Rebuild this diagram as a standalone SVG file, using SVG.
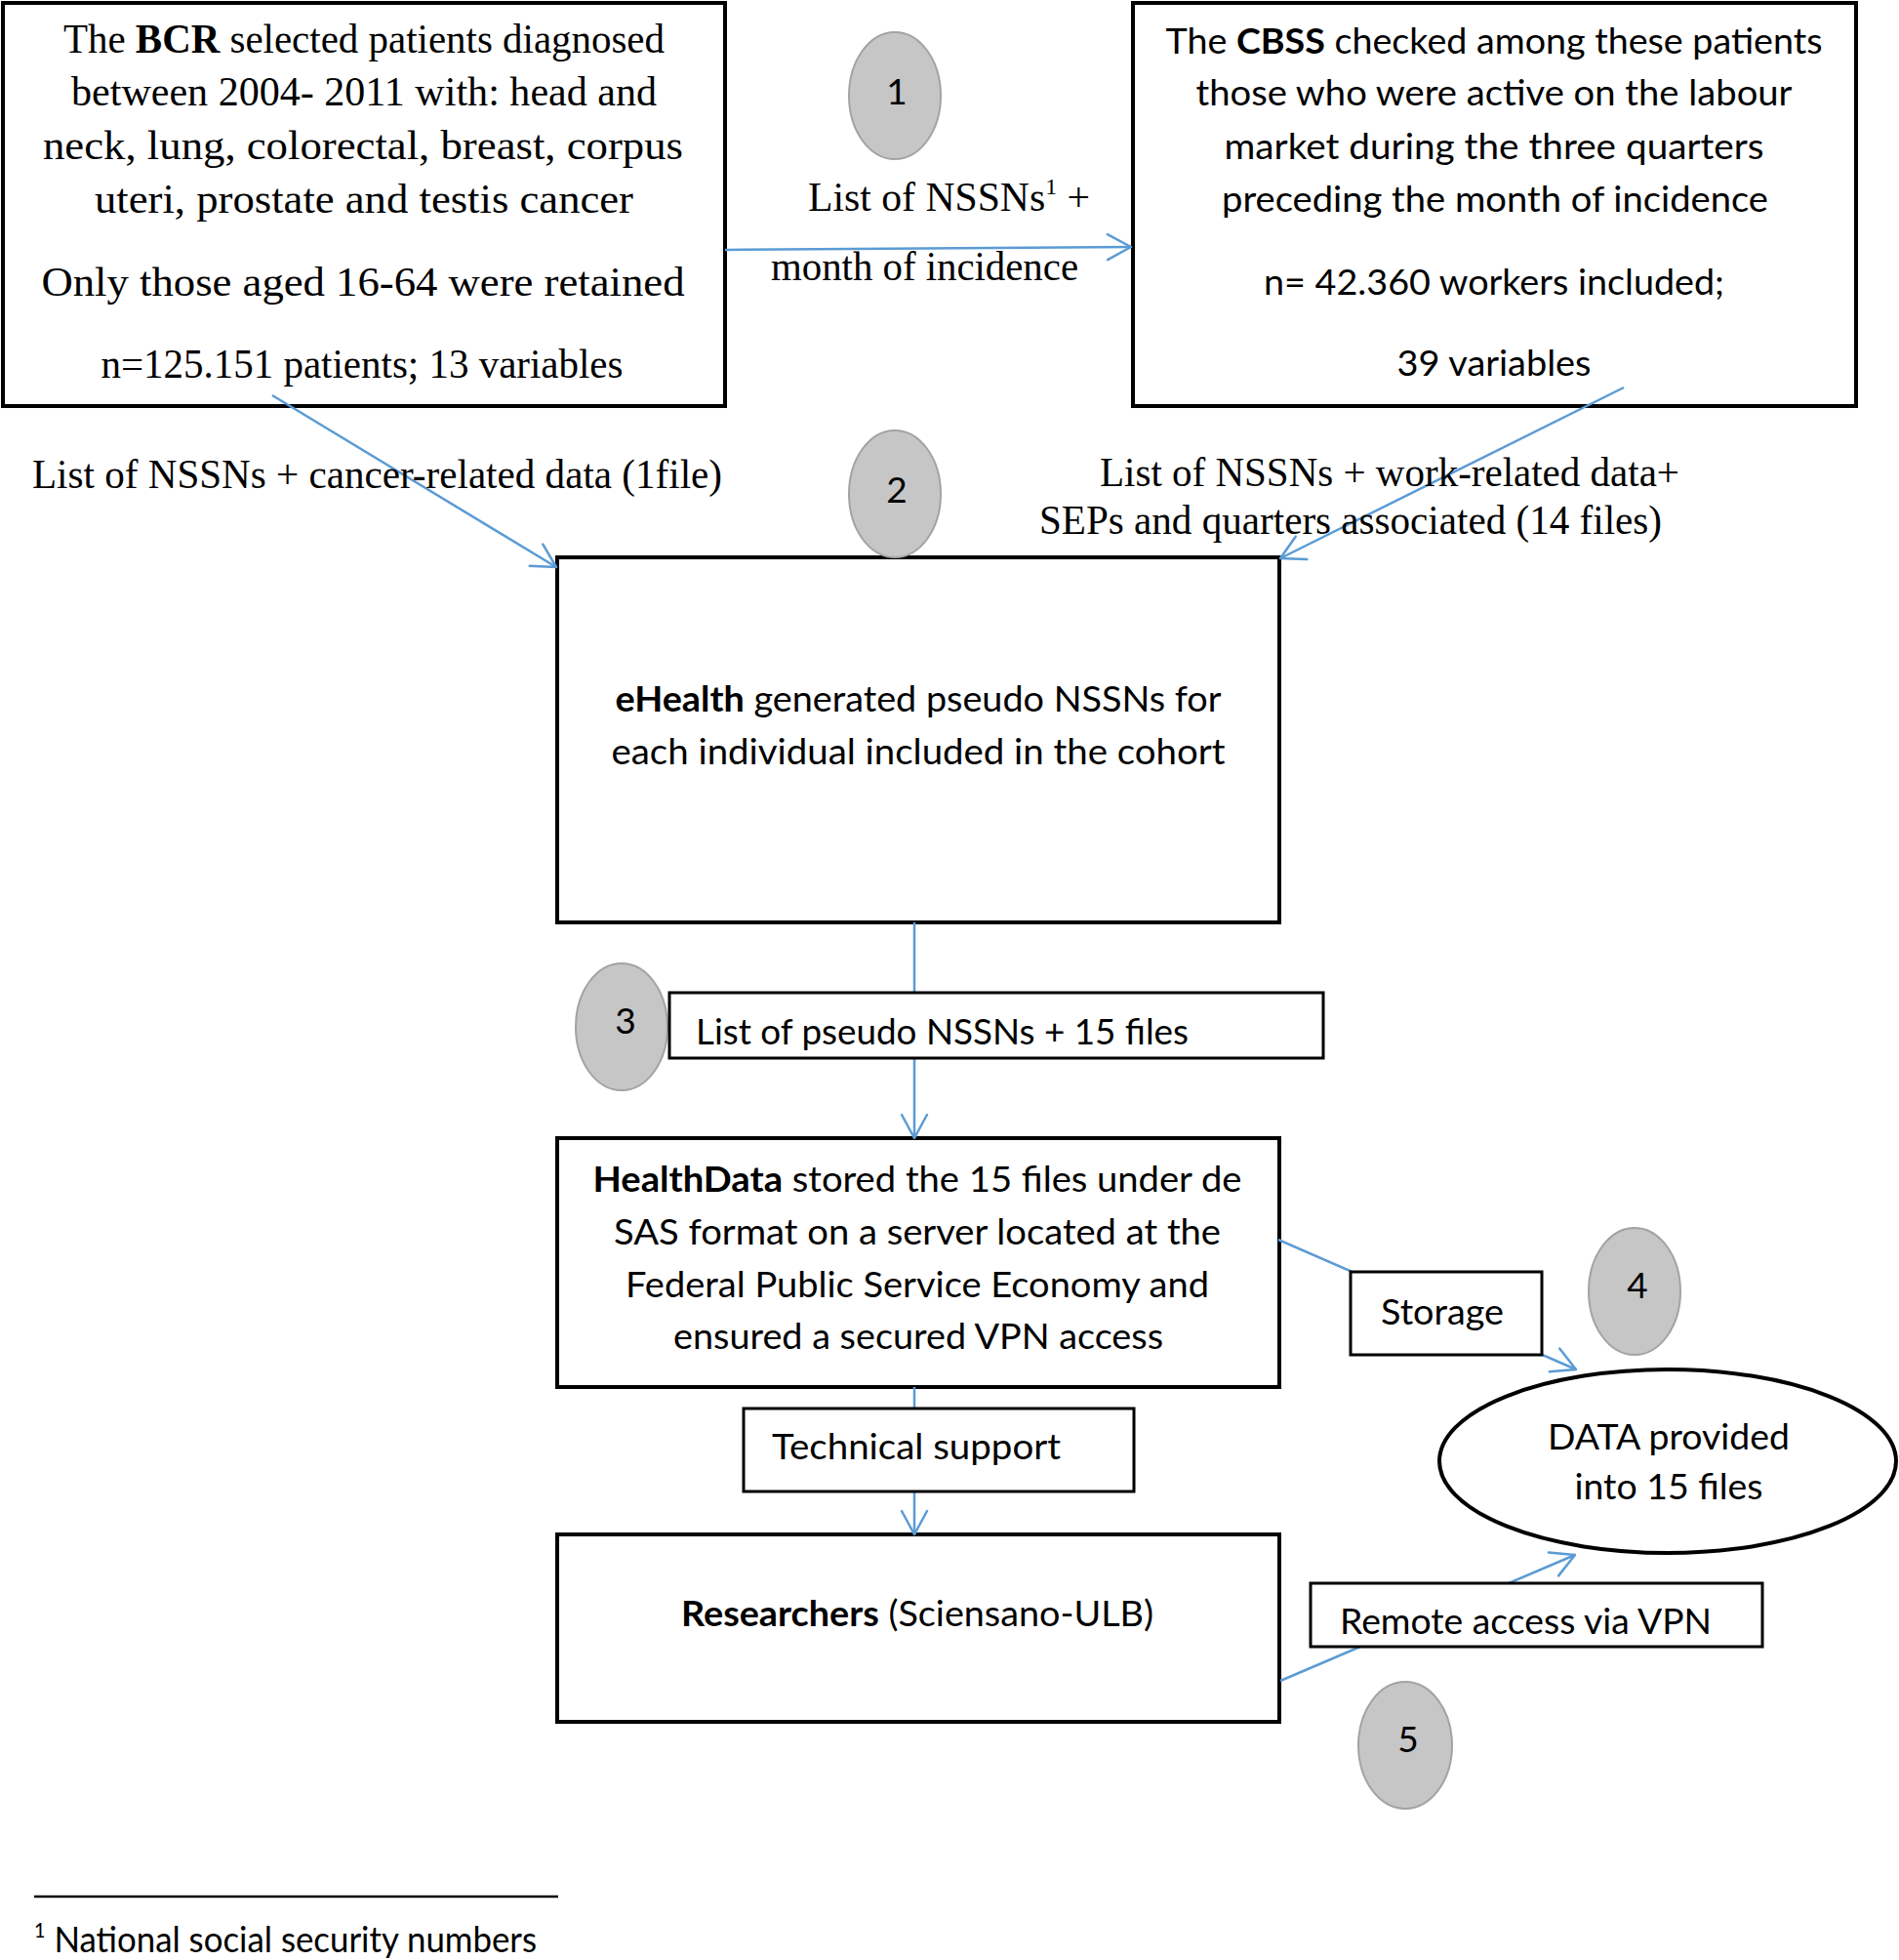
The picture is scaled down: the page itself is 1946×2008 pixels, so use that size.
<svg xmlns="http://www.w3.org/2000/svg" width="1946" height="2008" viewBox="0 0 1946 2008">
<style>
.box{fill:#fff;stroke:#000;stroke-width:4}
.lbl{fill:#fff;stroke:#000;stroke-width:3}
.serif{font-family:"Liberation Serif","Times New Roman",serif;font-size:42px;fill:#000}
.sans{font-family:Lato,"Open Sans",sans-serif;font-size:37px;fill:#000}
.mid{text-anchor:middle}
.b{font-weight:bold}
.conn{stroke:#5b9bd5;stroke-width:2.5;fill:none;marker-end:url(#arr)}
.badge{fill:#c6c6c6;stroke:#a3a3a3;stroke-width:2}
.num{font-family:Lato,"Open Sans",sans-serif;font-size:37px;text-anchor:middle;fill:#000}
</style>
<defs>
<marker id="arr" markerUnits="userSpaceOnUse" viewBox="-28 -16 32 32" markerWidth="32" markerHeight="32" refX="0" refY="0" orient="auto">
<path d="M-24,-13 L0,0 L-24,13" fill="none" stroke="#5b9bd5" stroke-width="2.5" stroke-linecap="round" stroke-linejoin="round"/>
</marker>
</defs>
<rect width="1946" height="2008" fill="#fff"/>

<g id="n-bcr">
<rect class="box" x="3" y="3" width="740" height="413"/>
<text class="serif mid" x="373" y="54" textLength="616" lengthAdjust="spacingAndGlyphs">The <tspan class="b">BCR</tspan> selected patients diagnosed</text>
<text class="serif mid" x="373" y="108" textLength="600" lengthAdjust="spacingAndGlyphs">between 2004- 2011 with: head and</text>
<text class="serif mid" x="372" y="163" textLength="656" lengthAdjust="spacingAndGlyphs">neck, lung, colorectal, breast, corpus</text>
<text class="serif mid" x="373" y="218" textLength="552" lengthAdjust="spacingAndGlyphs">uteri, prostate and testis cancer</text>
<text class="serif mid" x="372" y="303" textLength="659" lengthAdjust="spacingAndGlyphs">Only those aged 16-64 were retained</text>
<text class="serif mid" x="371" y="387" textLength="535" lengthAdjust="spacingAndGlyphs">n=125.151 patients; 13 variables</text>
</g>

<g id="n-cbss">
<rect class="box" x="1161" y="3" width="741" height="413"/>
<text class="sans mid" x="1531" y="55" textLength="673" lengthAdjust="spacingAndGlyphs">The <tspan class="b">CBSS</tspan> checked among these patients</text>
<text class="sans mid" x="1531" y="108" textLength="611" lengthAdjust="spacingAndGlyphs">those who were active on the labour</text>
<text class="sans mid" x="1531" y="163" textLength="553" lengthAdjust="spacingAndGlyphs">market during the three quarters</text>
<text class="sans mid" x="1532" y="217" textLength="560" lengthAdjust="spacingAndGlyphs">preceding the month of incidence</text>
<text class="sans mid" x="1531" y="302" textLength="472" lengthAdjust="spacingAndGlyphs">n= 42.360 workers included;</text>
<text class="sans mid" x="1531" y="385" textLength="199" lengthAdjust="spacingAndGlyphs">39 variables</text>
</g>

<g id="n-ehealth">
<rect class="box" x="571" y="571" width="740" height="374"/>
<text class="sans mid" x="941" y="729" textLength="621" lengthAdjust="spacingAndGlyphs"><tspan class="b">eHealth</tspan> generated pseudo NSSNs for</text>
<text class="sans mid" x="941" y="783" textLength="629" lengthAdjust="spacingAndGlyphs">each individual included in the cohort</text>
</g>

<g id="n-healthdata">
<rect class="box" x="571" y="1166" width="740" height="255"/>
<text class="sans mid" x="940" y="1221" textLength="665" lengthAdjust="spacingAndGlyphs"><tspan class="b">HealthData</tspan> stored the 15 files under de</text>
<text class="sans mid" x="940" y="1275" textLength="622" lengthAdjust="spacingAndGlyphs">SAS format on a server located at the</text>
<text class="sans mid" x="940" y="1329" textLength="598" lengthAdjust="spacingAndGlyphs">Federal Public Service Economy and</text>
<text class="sans mid" x="941" y="1382" textLength="502" lengthAdjust="spacingAndGlyphs">ensured a secured VPN access</text>
</g>

<g id="n-researchers">
<rect class="box" x="571" y="1572" width="740" height="192"/>
<text class="sans mid" x="940" y="1666" textLength="484" lengthAdjust="spacingAndGlyphs"><tspan class="b">Researchers</tspan> (Sciensano-ULB)</text>
</g>

<g id="connectors">
<path class="conn" d="M743,256 L1159,253"/>
<path class="conn" d="M279,405 L570,581"/>
<path class="conn" d="M1664,397 L1312,572"/>
<path class="conn" d="M937,945 L937,1166"/>
<path class="conn" d="M937,1421 L937,1572"/>
<path class="conn" d="M1310,1270 L1615,1403"/>
<path class="conn" d="M1312,1722 L1614,1593"/>
</g>

<g id="lbl-step1">
<text class="serif" x="828" y="216" textLength="289" lengthAdjust="spacingAndGlyphs">List of NSSNs<tspan font-size="24" dy="-17">1</tspan><tspan dy="17"> +</tspan></text>
<text class="serif" x="790" y="287" textLength="315" lengthAdjust="spacingAndGlyphs">month of incidence</text>
</g>

<g id="lbl-bcr-data">
<text class="serif" x="33" y="500" textLength="707" lengthAdjust="spacingAndGlyphs">List of NSSNs + cancer-related data (1file)</text>
</g>

<g id="lbl-cbss-data">
<text class="serif" x="1127" y="498" textLength="594" lengthAdjust="spacingAndGlyphs">List of NSSNs + work-related data+</text>
<text class="serif" x="1065" y="547" textLength="638" lengthAdjust="spacingAndGlyphs">SEPs and quarters associated (14 files)</text>
</g>

<g id="badge-1">
<ellipse class="badge" cx="917" cy="98" rx="47" ry="65"/>
<text class="num" x="919" y="107">1</text>
</g>

<g id="badge-2">
<ellipse class="badge" cx="917" cy="506" rx="47" ry="65"/>
<text class="num" x="919" y="515">2</text>
</g>

<g id="badge-3">
<ellipse class="badge" cx="637" cy="1052" rx="47" ry="65"/>
<text class="num" x="641" y="1059">3</text>
</g>

<g id="n-pseudo">
<rect class="lbl" x="686" y="1017" width="670" height="67"/>
<text class="sans" x="713" y="1070" textLength="505" lengthAdjust="spacingAndGlyphs">List of pseudo NSSNs + 15 files</text>
</g>

<g id="n-storage">
<rect class="lbl" x="1384" y="1303" width="196" height="85"/>
<text class="sans" x="1415" y="1357" textLength="126" lengthAdjust="spacingAndGlyphs">Storage</text>
</g>

<g id="badge-4">
<ellipse class="badge" cx="1675" cy="1323" rx="47" ry="65"/>
<text class="num" x="1678" y="1330">4</text>
</g>

<g id="n-data">
<ellipse cx="1709" cy="1497" rx="234" ry="94" fill="#fff" stroke="#000" stroke-width="4"/>
<text class="sans mid" x="1710" y="1485" textLength="248" lengthAdjust="spacingAndGlyphs">DATA provided</text>
<text class="sans mid" x="1710" y="1536" textLength="193" lengthAdjust="spacingAndGlyphs">into 15 files</text>
</g>

<g id="n-techsupport">
<rect class="lbl" x="762" y="1443" width="400" height="85"/>
<text class="sans" x="791" y="1495" textLength="296" lengthAdjust="spacingAndGlyphs">Technical support</text>
</g>

<g id="n-remote">
<rect class="lbl" x="1343" y="1622" width="463" height="65"/>
<text class="sans" x="1373" y="1674" textLength="381" lengthAdjust="spacingAndGlyphs">Remote access via VPN</text>
</g>

<g id="badge-5">
<ellipse class="badge" cx="1440" cy="1788" rx="48" ry="65"/>
<text class="num" x="1443" y="1795">5</text>
</g>

<g id="footnote">
<line x1="35" y1="1943" x2="572" y2="1943" stroke="#000" stroke-width="2.5"/>
<text class="sans" x="35" y="2000" font-size="35" textLength="515" lengthAdjust="spacingAndGlyphs"><tspan font-size="21" dy="-15">1</tspan><tspan dy="15"> National social security numbers</tspan></text>
</g>
</svg>
